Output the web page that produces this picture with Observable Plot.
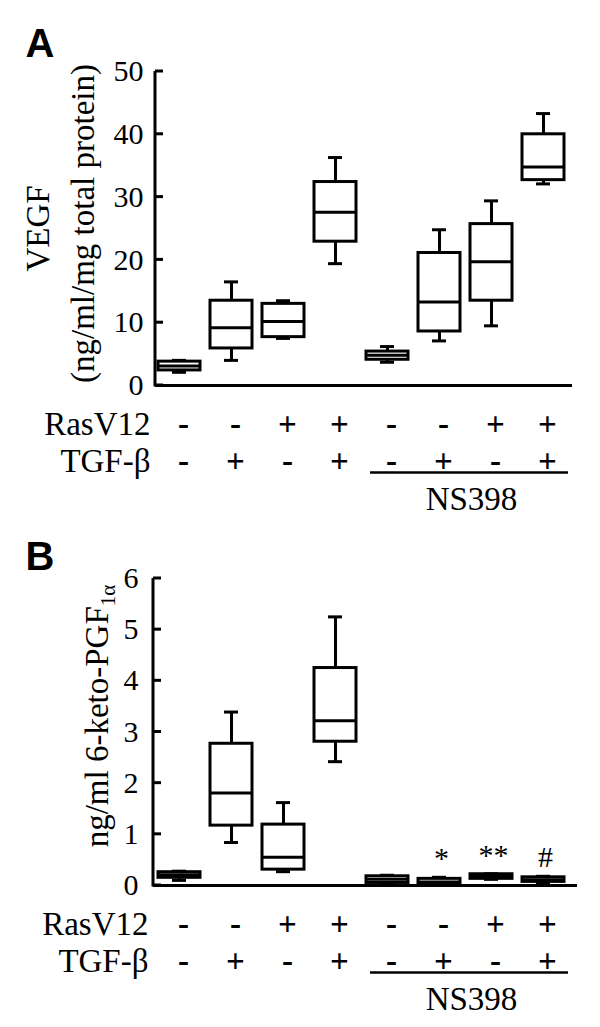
<!DOCTYPE html>
<html>
<head>
<meta charset="utf-8">
<script src="https://cdn.jsdelivr.net/npm/d3@7"></script>
<script src="https://cdn.jsdelivr.net/npm/@observablehq/plot@0.6"></script>
<style>
  html, body { margin: 0; padding: 0; background: white; }
  #chart { width: 600px; }
  #chart svg { display: block; font-family: 'Liberation Serif', 'Times New Roman', serif !important; }
</style>
</head>
<body>
<div id="chart"></div>
<script>
// ---- data ----
const groups = ["Control", "TGF-β", "RasV12", "RasV12+TGF-β",
                "NS398", "NS398+TGF-β", "NS398+RasV12", "NS398+RasV12+TGF-β"];
const rasV12 = ["-", "-", "+", "+", "-", "-", "+", "+"];
const tgfBeta = ["-", "+", "-", "+", "-", "+", "-", "+"];
const rowLabels = ["RasV12", "TGF-β"];
const ns398Label = "NS398";
const ns398First = "NS398";
const ns398Last = "NS398+RasV12+TGF-β";

// Panel A: VEGF (ng/ml/mg total protein)
const vegfMin = [2.1, 4.0, 7.5, 19.4, 3.7, 7.1, 9.5, 32.1];
const vegfQ1  = [2.4, 5.9, 7.7, 22.9, 4.1, 8.6, 13.5, 32.7];
const vegfMed = [3.1, 9.2, 10.2, 27.6, 4.8, 13.3, 19.7, 34.8];
const vegfQ3  = [3.8, 13.5, 13.0, 32.4, 5.4, 21.1, 25.7, 40.0];
const vegfMax = [4.0, 16.5, 13.5, 36.3, 6.2, 24.8, 29.4, 43.3];
const vegfTicks = [0, 10, 20, 30, 40, 50];

// Panel B: 6-keto-PGF1α (ng/ml)
const pgfMin = [0.10, 0.84, 0.27, 2.42, 0.03, 0.02, 0.12, 0.04];
const pgfQ1  = [0.15, 1.17, 0.31, 2.81, 0.05, 0.03, 0.13, 0.07];
const pgfMed = [0.21, 1.81, 0.55, 3.22, 0.12, 0.07, 0.18, 0.11];
const pgfQ3  = [0.26, 2.77, 1.19, 4.25, 0.18, 0.13, 0.22, 0.16];
const pgfMax = [0.28, 3.39, 1.62, 5.25, 0.20, 0.16, 0.23, 0.18];
const pgfNotes = ["", "", "", "", "", "*", "**", "#"];
const pgfTicks = [0, 1, 2, 3, 4, 5, 6];

const serif = "'Liberation Serif', 'Times New Roman', serif";
const sans = "'Liberation Sans', Arial, sans-serif";

// y-axis line with inward ticks, drawn from the plot's own y scale
function yAxisLine(ticks, sw) {
  return (index, scales, values, dims) => {
    const y = scales.y;
    const x0 = dims.marginLeft;
    const g = d3.create("svg:g").attr("stroke", "black").attr("stroke-width", sw).attr("fill", "none");
    const [d0, d1] = y.domain();
    g.append("line").attr("x1", x0).attr("x2", x0).attr("y1", y(d0) + sw / 2).attr("y2", y(d1));
    ticks.forEach(t => g.append("line").attr("x1", x0).attr("x2", x0 + 8).attr("y1", y(t)).attr("y2", y(t)));
    return g.node();
  };
}

function panel({letter, lo, q1, med, q3, hi, notes, ticks, yMax, height, marginTop, marginBottom,
                marginLeft, marginRight, paddingOuter, align, ylabels, tickGap, letterDy}) {
  const rows = groups.map((g, i) => ({
    group: g, lo: lo[i], q1: q1[i], med: med[i], q3: q3[i], hi: hi[i],
    ras: rasV12[i], tgf: tgfBeta[i], note: notes ? notes[i] : ""
  }));
  const sw = 3;
  const capInset = 14;
  const sym = {frameAnchor: "bottom", dx: 4, lineAnchor: "bottom", fontSize: 33, fontFamily: serif,
               fill: "black", fontWeight: "bold"};
  const marks = [
    Plot.ruleX(rows, {x: "group", y1: "lo", y2: "q1", stroke: "black", strokeWidth: sw}),
    Plot.ruleX(rows, {x: "group", y1: "q3", y2: "hi", stroke: "black", strokeWidth: sw}),
    Plot.tickY(rows, {x: "group", y: "lo", stroke: "black", strokeWidth: sw, insetLeft: capInset, insetRight: capInset}),
    Plot.tickY(rows, {x: "group", y: "hi", stroke: "black", strokeWidth: sw, insetLeft: capInset, insetRight: capInset}),
    Plot.barY(rows, {x: "group", y1: "q1", y2: "q3", fill: "white", stroke: "black", strokeWidth: sw}),
    Plot.tickY(rows, {x: "group", y: "med", stroke: "black", strokeWidth: sw}),
    Plot.ruleY([0], {stroke: "black", strokeWidth: sw}),
    Plot.axisY({ticks, tickFormat: d => String(d), tickSize: 0, tickPadding: tickGap,
                fontSize: 30, fontFamily: serif, label: null}),
    yAxisLine(ticks, sw),
    // factor rows
    Plot.text(rows, {x: "group", text: "ras", dy: 49, ...sym}),
    Plot.text(rows, {x: "group", text: "tgf", dy: 86, ...sym}),
    Plot.text([rowLabels[0]], {text: d => d, frameAnchor: "bottom-left", dx: -5, dy: 49,
                     textAnchor: "end", lineAnchor: "bottom", fontSize: 33, fontFamily: serif}),
    Plot.text([rowLabels[1]], {text: d => d, frameAnchor: "bottom-left", dx: -5, dy: 86,
                     textAnchor: "end", lineAnchor: "bottom", fontSize: 33, fontFamily: serif}),
    Plot.ruleY([{a: ns398First, b: ns398Last}], {x1: "a", x2: "b", y: () => 0, dy: 87, dx: 4,
                     stroke: "black", strokeWidth: 2.5}),
    Plot.text([ns398Label], {x: () => groups[5], text: d => d, frameAnchor: "bottom", dx: 32, dy: 124,
                     lineAnchor: "bottom", fontSize: 33, fontFamily: serif}),
    // panel letter
    Plot.text([letter], {text: d => d, frameAnchor: "top-left", dx: -(marginLeft - 25), dy: letterDy,
                     textAnchor: "start", lineAnchor: "top", fontFamily: sans, fontWeight: "bold", fontSize: 40})
  ];
  ylabels.forEach(l => marks.push(
    Plot.text([l.text], {text: d => d, frameAnchor: "left", rotate: -90, dx: l.dx, dy: l.dy,
                         fontSize: l.size, textAnchor: "middle", fontFamily: serif})
  ));
  if (notes) {
    marks.push(Plot.text(rows, {x: "group", y: "hi", text: "note", dy: -9, dx: 2, lineAnchor: "bottom",
                                fontSize: 30, fontFamily: serif}));
  }
  return Plot.plot({
    width: 600, height, marginTop, marginBottom, marginLeft, marginRight,
    style: {fontFamily: serif, fontSize: "28px", background: "white", color: "black", overflow: "visible"},
    x: {domain: groups, axis: null, paddingInner: 0.19, paddingOuter, align},
    y: {domain: [0, yMax], axis: null},
    marks
  });
}

const chart = document.getElementById("chart");

const svgA = panel({
  letter: "A", lo: vegfMin, q1: vegfQ1, med: vegfMed, q3: vegfQ3, hi: vegfMax, notes: null,
  ticks: vegfTicks, yMax: 50, height: 520, marginTop: 71, marginBottom: 135,
  marginLeft: 155, marginRight: 28, paddingOuter: 0.076, align: 0.25, tickGap: 12, letterDy: -43,
  ylabels: [
    {text: "VEGF", dx: -117, dy: 0, size: 33},
    {text: "(ng/ml/mg total protein)", dx: -72, dy: -5, size: 33}
  ]
});
chart.appendChild(svgA);

const svgB = panel({
  letter: "B", lo: pgfMin, q1: pgfQ1, med: pgfMed, q3: pgfQ3, hi: pgfMax, notes: pgfNotes,
  ticks: pgfTicks, yMax: 6, height: 507, marginTop: 58, marginBottom: 142,
  marginLeft: 153, marginRight: 23, paddingOuter: 0.133, align: 0.29, tickGap: 15, letterDy: -37,
  ylabels: [
    {text: "ng/ml 6-keto-PGF1α", dx: -56, dy: -16, size: 33}
  ]
});
chart.appendChild(svgB);

// subscript for 1α in panel B label
d3.select(svgB).selectAll("text").each(function() {
  if (this.textContent === "ng/ml 6-keto-PGF1α") {
    const t = d3.select(this);
    t.text(null);
    t.append("tspan").text("ng/ml 6-keto-PGF");
    t.append("tspan").attr("font-size", 21).attr("dy", 7).text("1α");
  }
});
</script>
</body>
</html>
